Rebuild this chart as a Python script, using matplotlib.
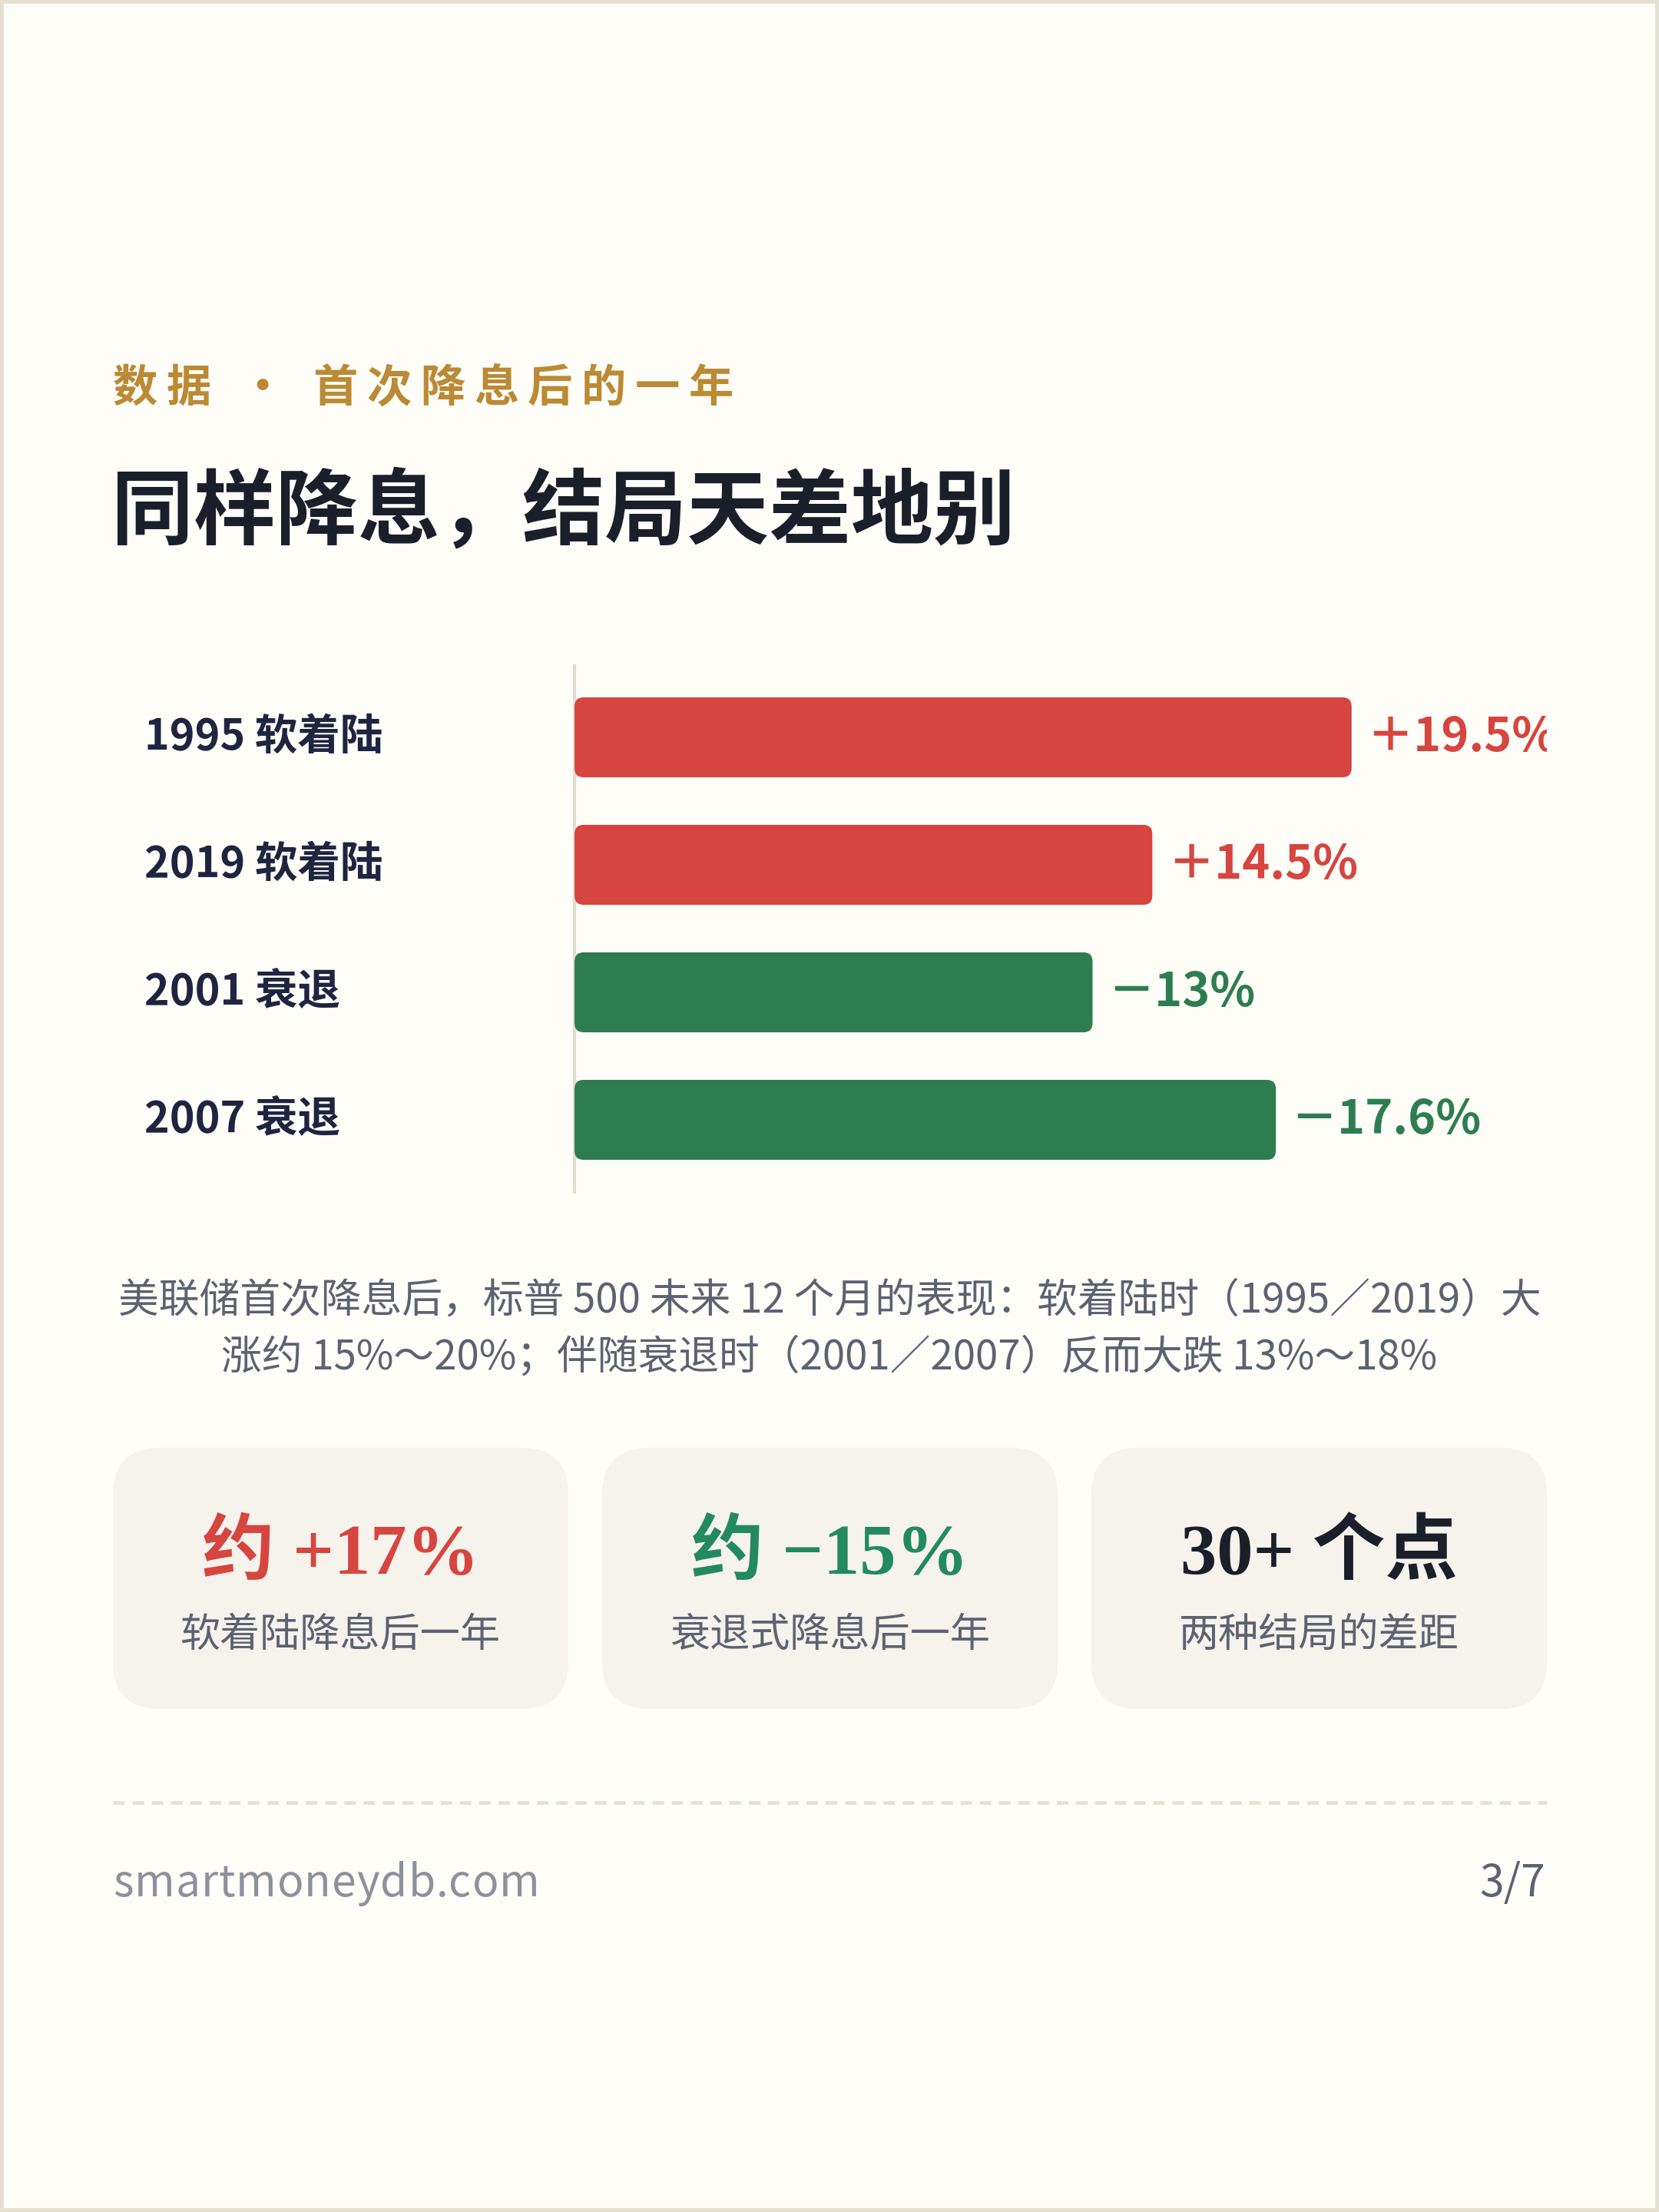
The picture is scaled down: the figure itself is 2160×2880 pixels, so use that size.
import matplotlib
matplotlib.use('Agg')
import matplotlib.pyplot as plt
from matplotlib.patches import FancyBboxPatch, Rectangle
from matplotlib import transforms
from matplotlib.font_manager import FontProperties, findfont
from matplotlib.ft2font import FT2Font

plt.rcParams['font.family'] = ['Noto Sans CJK SC', 'DejaVu Sans']

# ---------------- data ----------------
categories = ['1995 软着陆', '2019 软着陆', '2001 衰退', '2007 衰退']
returns = [19.5, 14.5, -13.0, -17.6]
value_labels = ['＋19.5%', '＋14.5%', '－13%', '－17.6%']
stat_values = ['约 +17%', '约 −15%', '30+ 个点']
stat_captions = ['软着陆降息后一年', '衰退式降息后一年', '两种结局的差距']
kicker_parts = ['数', '据', ' ', '・', ' ', '首', '次', '降', '息', '后', '的', '一', '年']
title = '同样降息，结局天差地别'
desc_lines = ['美联储首次降息后，标普 500 未来 12 个月的表现：软着陆时（1995／2019）大',
              '涨约 15%～20%；伴随衰退时（2001／2007）反而大跌 13%～18%']
footer_site = 'smartmoneydb.com'
page_label = '3/7'

# ---------------- colours ----------------
BORDER = '#e6e0d3'
CARD = '#fefdf8'
GOLD = '#bb8a34'
INK = '#1b1f2a'
NAVY = '#1f2541'
RED = '#d6453f'
GREEN_BAR = '#2e7d50'
GREEN_BIG = '#228a5e'
GREY = '#5c6271'
LIGHTGREY = '#8e919c'
AXIS = '#e2ddd0'
BOX = '#f6f2ec'

W, H = 2160, 2880
fig = plt.figure(figsize=(W / 100, H / 100), dpi=100, facecolor=BORDER)

bg = fig.add_axes([0, 0, 1, 1], zorder=0)
bg.set_xlim(0, W)
bg.set_ylim(H, 0)
bg.axis('off')
bg.add_patch(Rectangle((5, 5), W - 10, H - 10, facecolor=CARD, edgecolor='none'))


def spaced_text(ax, x, y, chars, spacing, size, weight, color, va='center'):
    fp = FontProperties(family=['Noto Sans CJK SC'], weight=weight, size=size)
    font = FT2Font(findfont(fp), hinting_factor=1)
    font.set_size(size, fig.dpi)
    for ch in chars:
        if ch.strip():
            ax.text(x, y, ch, fontproperties=fp, color=color, ha='left', va=va)
        g = font.load_char(ord(ch))
        x += g.linearHoriAdvance / 65536 + spacing


# kicker
spaced_text(bg, 147, 506, kicker_parts, 11.7, 42, 'bold', GOLD)

# title
bg.text(145, 668, title, fontsize=77, fontweight='bold', color=INK, ha='left', va='center')

# ---------------- bar chart ----------------
ax_l, ax_r, ax_t, ax_b = 748, 2014, 867, 1552
ax = fig.add_axes([ax_l / W, 1 - ax_b / H, (ax_r - ax_l) / W, (ax_b - ax_t) / H], zorder=1)
ax.patch.set_visible(False)
ypos = list(range(len(categories)))
mags = [abs(v) for v in returns]
ax.set_xlim(0, 24.4)
ax.set_ylim(3.566, -0.56)
for s in ['top', 'right', 'bottom']:
    ax.spines[s].set_visible(False)
ax.spines['left'].set_color(AXIS)
ax.spines['left'].set_linewidth(2.9)
ax.set_xticks([])
ax.set_yticks([])

colors = [RED if v > 0 else GREEN_BAR for v in returns]
bars = ax.barh(ypos, mags, height=0.627, color=colors)

xu_per_px = 24.4 / (ax_r - ax_l)
yu_per_px = (3.566 + 0.56) / (ax_b - ax_t)
aspect = yu_per_px / xu_per_px
for b, c in zip(bars, colors):
    b.set_visible(False)
    p = FancyBboxPatch((b.get_x(), b.get_y()), b.get_width(), b.get_height(),
                       boxstyle='round,pad=0,rounding_size=%f' % (12 * xu_per_px),
                       mutation_aspect=aspect, facecolor=c, edgecolor='none', zorder=3)
    ax.add_patch(p)

offset = transforms.ScaledTranslation(14 / 72, 0, fig.dpi_scale_trans)
for y, m, lab, c in zip(ypos, mags, value_labels, colors):
    ax.text(m, y, lab, transform=ax.transData + offset, clip_on=True,
            fontsize=44, fontweight='bold', color=c, ha='left', va='center')

lab_tr = transforms.blended_transform_factory(bg.transData, ax.transData)
for y, cat in zip(ypos, categories):
    ax.text(188, y, cat, transform=lab_tr, clip_on=False, fontsize=40,
            fontweight='bold', color=NAVY, ha='left', va='center')

# ---------------- description ----------------
bg.text(1080, 1693, desc_lines[0], fontsize=38, color=GREY, ha='center', va='center')
bg.text(1080, 1767, desc_lines[1], fontsize=38, color=GREY, ha='center', va='center')

# ---------------- stat boxes ----------------
box_x = [147, 784, 1421]
box_w = 593
box_top, box_h = 1885, 340
big_colors = [RED, GREEN_BIG, INK]
for x0, val, cap, col in zip(box_x, stat_values, stat_captions, big_colors):
    bg.add_patch(FancyBboxPatch((x0, box_top), box_w, box_h,
                                boxstyle='round,pad=0,rounding_size=62',
                                facecolor=BOX, edgecolor='none'))
    cx = x0 + box_w / 2
    bg.text(cx, 2049, val, family=['Liberation Serif', 'Noto Sans CJK SC'],
            fontweight='bold', fontsize=68, color=col, ha='center', va='baseline')
    bg.text(cx, 2129, cap, fontsize=37.5, color=GREY, ha='center', va='center')

# ---------------- footer ----------------
bg.plot([147, 2014], [2347, 2347], color='#e3dfd3', lw=3.3,
        dashes=(3.27, 2.2), solid_capstyle='butt', dash_capstyle='butt')
spaced_text(bg, 147, 2469, footer_site, 1.0, 41, 'normal', LIGHTGREY, va='baseline')
bg.text(2012, 2469, page_label, fontsize=41, color=GREY, ha='right', va='baseline')

fig.savefig('out.png', dpi=100, facecolor=BORDER)
